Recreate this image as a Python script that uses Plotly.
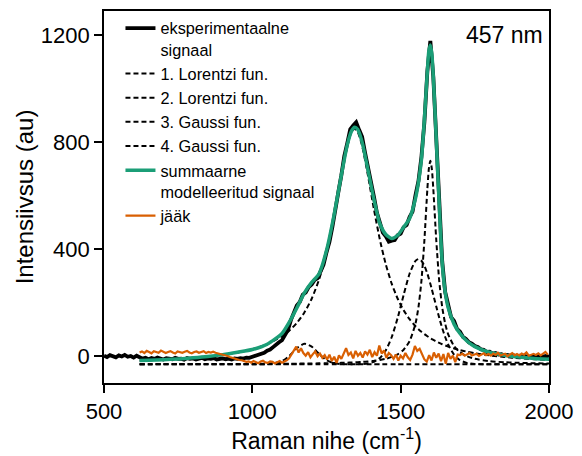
import plotly.graph_objects as go

# Raman shift axis for the measured spectrum (cm-1)
x_exp = list(range(500, 2001, 10))
# measured intensity (au)
y_exp = [
    2, -3, 4, 0, -4, 3, -1, 5, -2, 1,
    -5, 2, -4, -9, -6, -11, -7, -10, -5, -9,
    -12, -7, -8, -11, -6, -10, -9, -13, -7, -10,
    -8, -12, -9, -6, -11, -8, -10, -7, -12, -9,
    -8, -11, -9, -12, -8, -10, -7, -9, -5, -6,
    -2, 3, 5, 10, 13, 21, 25, 34, 41, 52,
    60, 80, 98, 135, 162, 190, 203, 230, 238, 258,
    268, 285, 292, 315, 342, 388, 428, 484, 540, 614,
    676, 748, 796, 848, 862, 874, 846, 820, 760, 710,
    645, 595, 536, 498, 462, 448, 428, 432, 434, 452,
    458, 482, 490, 520, 540, 602, 655, 745, 875, 1065,
    1178, 1045, 815, 560, 355, 240, 190, 146, 132, 102,
    92, 72, 65, 52, 47, 38, 35, 26, 24, 16,
    17, 10, 12, 6, 8, 3, 5, 1, 4, -2,
    2, -3, 1, -4, 0, -2, 2, -5, -1, 1, -2,
]

# fit range sampling (cm-1)
x_fit = [620, 650, 700, 750, 800, 850, 900, 950, 1000,
         1050, 1100, 1125, 1150, 1175, 1200, 1225, 1250, 1275, 1300,
         1320, 1335, 1345, 1355, 1370, 1390, 1410, 1430, 1450, 1470,
         1490, 1510, 1530, 1550, 1560, 1570, 1580, 1590, 1595, 1600,
         1605, 1610, 1620, 1630, 1640, 1650, 1660, 1680, 1700, 1725,
         1750, 1800, 1850, 1900, 1950, 2000]

lorentz1 = [-16.6, -15.5, -13.2, -10.3, -6.6, -1.8, 4.6, 13.4, 26.1,
            44.9, 74.6, 96.2, 124.5, 162.6, 214.7, 286.8, 386.2, 518.3, 674,
            787, 839.3, 850, 839.3, 787, 674, 548.3, 435.1, 342.7, 270.4,
            214.7, 171.8, 138.4, 112.2, 101.2, 91.4, 82.6, 74.6, 71.0, 67.5,
            64.2, 61.0, 55.1, 49.8, 44.9, 40.5, 36.4, 29.2, 23.1, 16.7,
            11.4, 3.1, -2.9, -7.5, -10.9, -13.7]

lorentz2 = [-29.5, -29.5, -29.4, -29.3, -29.3, -29.2, -29.0, -28.9, -28.7,
            -28.4, -28.1, -27.9, -27.7, -27.4, -27.0, -26.6, -26.1, -25.5, -24.8,
            -24.0, -23.3, -22.8, -22.2, -21.1, -19.4, -17.1, -13.9, -9.5, -2.4,
            7.3, 24.4, 56.0, 122, 183.5, 281.5, 433.4, 625.2, 700.8, 730,
            700.8, 625.2, 433.4, 281.5, 183.5, 122, 82.4, 37.6, 14.7, -0.8,
            -9.5, -18.3, -22.5, -24.8, -26.1, -27.0]

gauss3 = [-30, -30, -30, -30, -30, -30, -30, -30, -30,
          -30, -30, -30, -30, -30, -30, -30, -30, -30, -30,
          -30, -30, -29.8, -29.6, -29.0, -26.8, -20.8, -6.5, 22.3, 71.9,
          143.7, 229.1, 308.3, 356.5, 363, 356.5, 337.6, 308.3, 290.4, 271.0,
          250.4, 229.1, 185.7, 143.7, 105.3, 71.9, 44.2, 5.7, -15.0, -25.8,
          -29.0, -30, -30, -30, -30, -30]

gauss4 = [-30, -30, -30, -30, -30, -30, -30, -30, -30,
          -29.5, -18.5, 2.0, 30.3, 46.8, 36.2, 8.6, -14.8, -25.9, -29.3,
          -29.9, -30, -30, -30, -30, -30, -30, -30, -30, -30,
          -30, -30, -30, -30, -30, -30, -30, -30, -30, -30,
          -30, -30, -30, -30, -30, -30, -30, -30, -30, -30,
          -30, -30, -30, -30, -30, -30]

model_sum = [-16, -15, -13, -10, -6, -1, 6, 15, 25,
             45, 85, 128, 180, 236, 276, 308, 395, 525, 676,
             790, 843, 856, 848, 800, 695, 585, 495, 455, 440,
             452, 482, 515, 590, 650, 735, 885, 1065, 1140, 1163,
             1130, 1045, 810, 565, 350, 240, 182, 120, 85, 55,
             36, 14, 4, -3, -8, -11]

# residual sampling (cm-1) and residual values
x_res = list(range(620, 2000, 8))
residual = [
    14, 18, 12, 20, 16, 11, 19, 15, 13, 21, 17, 12, 16, 19, 14, 10, 18,
    15, 13, 17, 20, 14, 11, 16, 18, 13, 15, 19, 12, 16, 14, 17, 13,
    11, 9, 6, 3, 1, -3, -6, -9, -11, -14, -15,
    -17, -21, -19, -24, -18, -22, -26, -20, -17, -23, -25, -19, -21, -27,
    -22, -18, -24, -20, -15,
    -8, 5, 22, 36, 14, 30,
    12, 2, 15, -4, 8, 18, 0, 10, -6,
    4, -12, 6, -18, -2, -25, 3, -10, 8,
    30, 5, 14, -8, 20, 2, 12, -5, 18, 6, 24, -3,
    15, 2, 40, 10, 22, -6, 12, 4,
    -10, 6, -16, 2, -8, 12, -4, -14, 6,
    38, 20, 28, 5,
    -12, -20, 4, -16, 14, -6, 10,
    -18, 8, -28, 12, -10, 2, -22, 6,
    4, 10, 2, 8, 12, 3, 6, 9, 1, 7, 11, 4, 8, 2, 10, 5, 13, 3, 7,
    9, 0, 6, 12, 4, 8, 3, 10, 6, 14, 2, 7, 9, 5, 11, 3, 8, 16, 6,
]

GREEN = "#1b9e77"
ORANGE = "#d95f02"
DASH = "5px,3px"

fig = go.Figure()
fig.add_trace(go.Scatter(x=x_exp, y=y_exp, mode="lines",
                         name="eksperimentaalne<br>signaal",
                         line=dict(color="black", width=3.8)))
for name, ys in [("1. Lorentzi fun.", lorentz1),
                 ("2. Lorentzi fun.", lorentz2),
                 ("3. Gaussi fun.", gauss3),
                 ("4. Gaussi fun.", gauss4)]:
    fig.add_trace(go.Scatter(x=x_fit, y=ys, mode="lines", name=name,
                             line=dict(color="black", width=2, dash=DASH,
                                       shape="spline", smoothing=0.6)))
fig.add_trace(go.Scatter(x=x_fit, y=model_sum, mode="lines",
                         name="summaarne<br>modelleeritud signaal",
                         line=dict(color=GREEN, width=3.5,
                                   shape="spline", smoothing=0.6)))
fig.add_trace(go.Scatter(x=x_res, y=residual, mode="lines", name="jääk",
                         line=dict(color=ORANGE, width=2.2)))

font_family = "Liberation Sans, Arial, sans-serif"
fig.update_layout(
    width=582, height=456,
    margin=dict(l=104, r=29, t=9, b=73),
    paper_bgcolor="white", plot_bgcolor="white",
    font=dict(family=font_family, color="black"),
    showlegend=True,
    legend=dict(x=0.037, y=1.0, xanchor="left", yanchor="top",
                bgcolor="rgba(0,0,0,0)", font=dict(size=16.3),
                valign="top", tracegroupgap=0),
    annotations=[dict(text="457 nm", x=0.99, y=0.935, xref="paper",
                      yref="paper", xanchor="right", yanchor="middle",
                      showarrow=False, font=dict(size=23))],
)
fig.update_xaxes(range=[500, 2000], tickvals=[500, 1000, 1500, 2000],
                 ticks="outside", ticklen=8, tickwidth=1.5, tickcolor="black",
                 showline=True, linecolor="black", linewidth=1.8, mirror=True,
                 showgrid=False, zeroline=False, tickfont=dict(size=22),
                 title=dict(text="Raman nihe (cm<sup>-1</sup>)",
                            font=dict(size=23), standoff=2))
fig.update_yaxes(range=[-100, 1290], tickvals=[0, 400, 800, 1200],
                 ticks="outside", ticklen=8, tickwidth=1.5, tickcolor="black",
                 showline=True, linecolor="black", linewidth=1.8, mirror=True,
                 showgrid=False, zeroline=False, tickfont=dict(size=22),
                 title=dict(text="Intensiivsus (au)", font=dict(size=24),
                            standoff=0))

fig.write_html("out.html")
